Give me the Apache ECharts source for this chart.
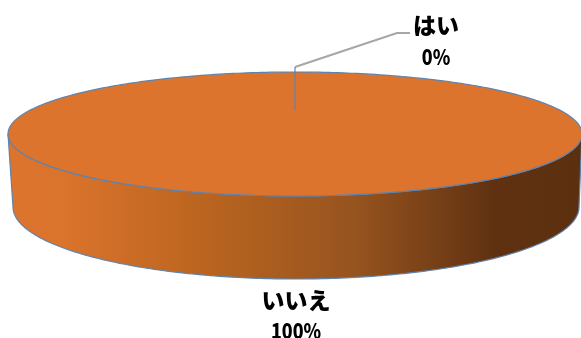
<!DOCTYPE html>
<html><head><meta charset="utf-8">
<style>html,body{margin:0;padding:0;background:#fff}#c{width:581px;height:338px}</style>
<script src="https://cdn.jsdelivr.net/npm/echarts@6/dist/echarts.min.js"></script>
</head><body><div id="c"></div>
<script>
const categories = ['はい', 'いいえ'];
const shares = [0, 100];

const total = shares.reduce((a, b) => a + b, 0);
const top_ = { cx: 295, cy: 134, rx: 287, ry: 62, apexY: 110 };
const base = { cx: 296, cy: 207, rx: 283, ry: 72 };
const EDGE = '#5f83ad', FILL = '#dd742d';
const labelAt = [{ x: 436, y1: 25, y2: 57 }, { x: 296, y1: 300, y2: 331 }];
const sideGradient = { type: 'linear', x: 0, y: 0, x2: 1, y2: 0, colorStops: [
  { offset: 0, color: '#dd742d' }, { offset: 0.1, color: '#da732c' },
  { offset: 0.35, color: '#b9641f' }, { offset: 0.6, color: '#97541f' },
  { offset: 0.85, color: '#5f3111' }, { offset: 1, color: '#5c300f' }] };

function pt(e, a) { return [e.cx + e.rx * Math.sin(a), e.cy - e.ry * Math.cos(a)]; }
function arc(e, a0, a1) {
  const n = Math.max(2, Math.ceil(Math.abs(a1 - a0) * 60)), out = [];
  for (let i = 0; i <= n; i++) out.push(pt(e, a0 + (a1 - a0) * i / n));
  return out;
}

function renderItem(params, api) {
  const i = params.dataIndex, v = api.value(0);
  const start = shares.slice(0, i).reduce((a, b) => a + b, 0) / total * Math.PI * 2;
  const end = start + v / total * Math.PI * 2;
  const children = [];
  if (v > 0) {
    const a0 = Math.max(start, Math.PI / 2), a1 = Math.min(end, Math.PI * 3 / 2);
    if (a1 > a0) {
      children.push({ type: 'polygon',
        shape: { points: arc(top_, a0, a1).concat(arc(base, a1, a0)) },
        style: { fill: sideGradient, stroke: EDGE, lineWidth: 1.2 } });
    }
    children.push({ type: 'polygon',
      shape: { points: [[top_.cx, top_.apexY]].concat(arc(top_, start, end)) },
      style: { fill: FILL, stroke: EDGE, lineWidth: 1.2, lineJoin: 'round' } });
  } else {
    const p = pt(top_, start);
    children.push({ type: 'polyline', z2: 10,
      shape: { points: [[p[0], p[1] - 5], [397, 33], [410, 33]] },
      style: { fill: null, stroke: '#a6a6a6', lineWidth: 2 } });
    children.push({ type: 'line', z2: 11,
      shape: { x1: p[0], y1: p[1] - 5, x2: p[0], y2: p[1] },
      style: { stroke: EDGE, lineWidth: 1.2 } });
  }
  const l = labelAt[i];
  const font = { fill: '#000', fontWeight: 900, fontFamily: '"Noto Sans CJK JP"', align: 'center', verticalAlign: 'middle' };
  children.push({ type: 'text', z2: 20, style: Object.assign({ text: categories[i], x: l.x, y: l.y1, fontSize: 23 }, font) });
  children.push({ type: 'text', z2: 20, x: l.x, y: l.y2, scaleX: 0.85,
    style: Object.assign({ text: v + '%', x: 0, y: 0, fontSize: 21 }, font) });
  return { type: 'group', children };
}

const chart = echarts.init(document.getElementById('c'), null, { renderer: 'canvas' });
chart.setOption({
  animation: false,
  backgroundColor: '#fff',
  series: [{ type: 'custom', coordinateSystem: 'none', renderItem,
    data: shares.map((v, i) => ({ name: categories[i], value: [v] })) }]
});
</script></body></html>
